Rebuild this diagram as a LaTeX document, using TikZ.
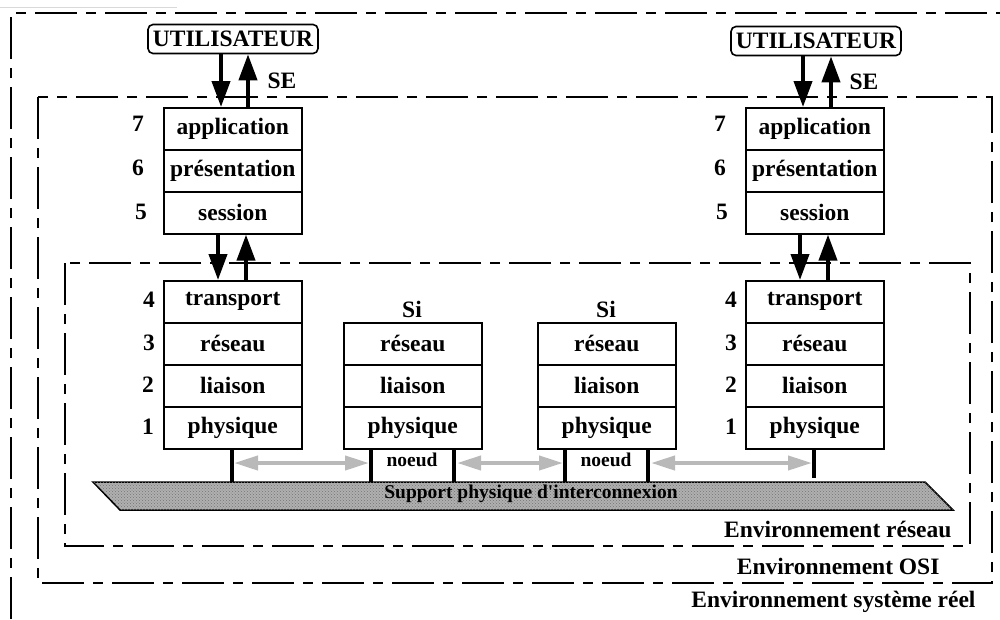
\documentclass[tikz,border=0pt]{standalone}
\usepackage{fontspec}
\setmainfont{Liberation Serif}
\usetikzlibrary{arrows.meta,patterns}
\definecolor{graylite}{RGB}{185,185,185}
\begin{document}
\begin{tikzpicture}[x=1pt,y=-1pt,
  every node/.style={font=\bfseries\fontsize{23.5}{25}\selectfont},
  layer/.style={draw,line width=1.6pt,minimum width=138pt,minimum height=42pt,inner sep=0pt,anchor=north west},
  user/.style={draw,line width=1.6pt,rounded corners=5pt,minimum width=170pt,minimum height=29pt,inner sep=0pt},
  env/.style={dash pattern=on 42pt off 9pt on 10pt off 9pt,line width=2.4pt},
  bigarr/.style={line width=4pt,-{Triangle[length=26pt,width=18pt]}},
  grayarr/.style={line width=4pt,draw=graylite,{Triangle[length=24pt,width=14pt,fill=graylite]}-{Triangle[length=24pt,width=14pt,fill=graylite]}},
  link/.style={line width=4pt},
  small/.style={font=\bfseries\fontsize{19.5}{21}\selectfont},
  envlabel/.style={anchor=east}
]
\useasboundingbox (0,0) rectangle (1000,619);
% faint line top-left
\draw[gray!30,line width=1pt] (0,7) -- (177,7);
% environments
\draw[env] (11,619) -- (11,13) -- (1000,13);
\draw[env] (38,97) rectangle (992,583);
\draw[env] (65,263) rectangle (970,546);

% users
\node[user] (u1) at (233,39) {UTILISATEUR};
\node[user] (u2) at (816,41) {UTILISATEUR};

% upper stacks
\node[layer] (app1) at (163,107) {application};
\node[layer] (pre1) at (163,149) {présentation};
\node[layer] (ses1) at (163,191) {session};
\node[layer] (app2) at (745,107) {application};
\node[layer] (pre2) at (745,149) {présentation};
\node[layer] (ses2) at (745,191) {session};

% lower stacks
\node[layer] (tra1) at (163,280) {transport};
\node[layer] (res1) at (163,322) {réseau};
\node[layer] (lia1) at (163,364) {liaison};
\node[layer] (phy1) at (163,406) {physique};

\node[layer] (resA) at (343,322) {réseau};
\node[layer] (liaA) at (343,364) {liaison};
\node[layer] (phyA) at (343,406) {physique};

\node[layer] (resB) at (537,322) {réseau};
\node[layer] (liaB) at (537,364) {liaison};
\node[layer] (phyB) at (537,406) {physique};

\node[layer] (tra2) at (745,280) {transport};
\node[layer] (res2) at (745,322) {réseau};
\node[layer] (lia2) at (745,364) {liaison};
\node[layer] (phy2) at (745,406) {physique};

\node (siA) at (412,309) {Si};
\node (siB) at (606,309) {Si};

% layer numbers
\node (n7a) at (138,124) {7};
\node (n6a) at (138,168) {6};
\node (n5a) at (141,212) {5};
\node (n4a) at (149,300) {4};
\node (n3a) at (149,343) {3};
\node (n2a) at (148,385) {2};
\node (n1a) at (148,427) {1};
\node (n7b) at (720,124) {7};
\node (n6b) at (720,168) {6};
\node (n5b) at (722,212) {5};
\node (n4b) at (731,300) {4};
\node (n3b) at (731,343) {3};
\node (n2b) at (731,385) {2};
\node (n1b) at (731,427) {1};

\node (se1) at (282,81) {SE};
\node (se2) at (864,82) {SE};

% vertical arrows
\coordinate (x1) at (221,0);
\coordinate (x2) at (248,0);
\coordinate (x3) at (803,0);
\coordinate (x4) at (831,0);
\coordinate (x5) at (218,0);
\coordinate (x6) at (246,0);
\coordinate (x7) at (800,0);
\coordinate (x8) at (828,0);
\draw[bigarr] (x1 |- u1.south) -- (x1 |- app1.north);
\draw[bigarr] (x2 |- app1.north) -- (x2 |- u1.south);
\draw[bigarr] (x3 |- u2.south) -- (x3 |- app2.north);
\draw[bigarr] (x4 |- app2.north) -- (x4 |- u2.south);
\draw[bigarr] (x5 |- ses1.south) -- (x5 |- tra1.north);
\draw[bigarr] (x6 |- tra1.north) -- (x6 |- ses1.south);
\draw[bigarr] (x7 |- ses2.south) -- (x7 |- tra2.north);
\draw[bigarr] (x8 |- tra2.north) -- (x8 |- ses2.south);

% physical support
\draw[line width=1.5pt,fill=gray!62,postaction={pattern=crosshatch dots,pattern color=black!55}]
  (93,482) -- (925,482) -- (953,510) -- (120,510) -- cycle;
\node[font=\bfseries\fontsize{19.5}{21}\selectfont] (sup) at (531,494) {Support physique d\textquotesingle interconnexion};

% connectors to support
\coordinate (c1) at (232,482);
\coordinate (c2) at (371,482);
\coordinate (c3) at (454,482);
\coordinate (c4) at (565,482);
\coordinate (c5) at (648,482);
\coordinate (c6) at (814,478);
\draw[link] (c1 |- phy1.south) -- (c1);
\draw[link] (c2 |- phyA.south) -- (c2);
\draw[link] (c3 |- phyA.south) -- (c3);
\draw[link] (c4 |- phyB.south) -- (c4);
\draw[link] (c5 |- phyB.south) -- (c5);
\draw[link] (c6 |- phy2.south) -- (c6);

\node[small] (noA) at (412,460) {noeud};
\node[small] (noB) at (606,460) {noeud};

% gray double arrows
\coordinate (g1) at (234,463);
\coordinate (g2) at (369,463);
\coordinate (g3) at (457,463);
\coordinate (g4) at (563,463);
\coordinate (g5) at (651,463);
\coordinate (g6) at (812,463);
\draw[grayarr] (g1) -- (g2);
\draw[grayarr] (g3) -- (g4);
\draw[grayarr] (g5) -- (g6);

% environment labels
\node[envlabel] (er) at (955,529) {Environnement réseau};
\node[envlabel] (eo) at (943,566) {Environnement OSI};
\node[envlabel] (es) at (979,602) {Environnement système réel};
\end{tikzpicture}
\end{document}
